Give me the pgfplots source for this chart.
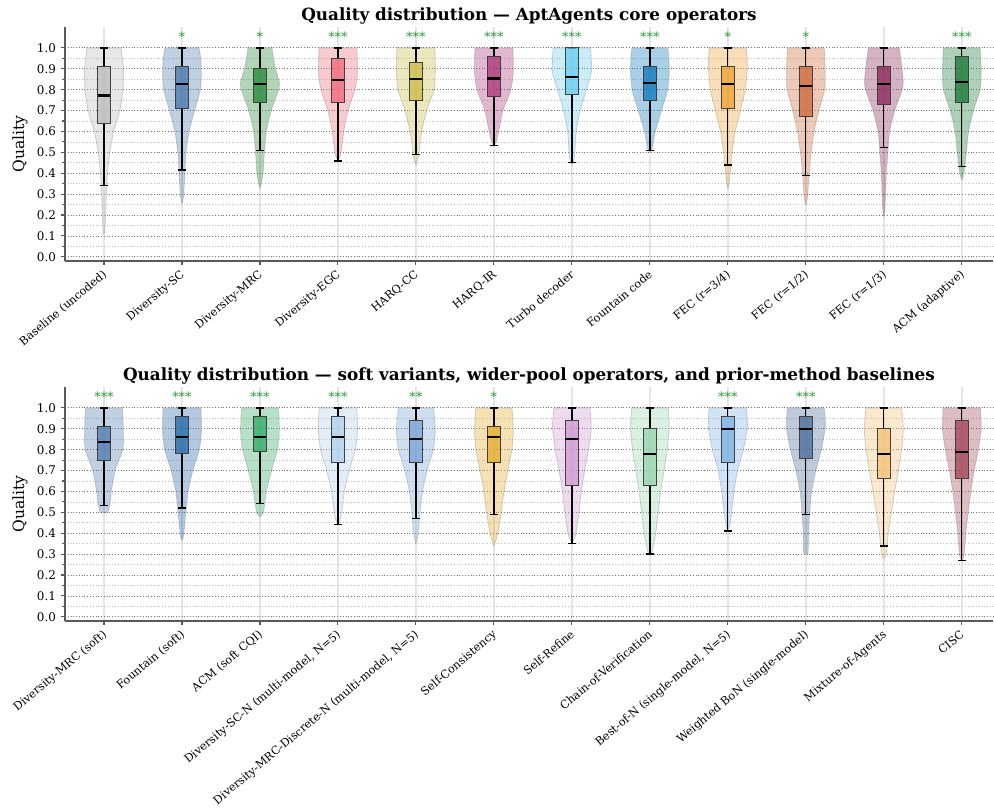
\documentclass[border=0pt]{standalone}
\usepackage{fontspec}
\setmainfont{DejaVu Serif}
\usepackage{pgfplots}
\usepackage{pgfplotstable}
\pgfplotsset{compat=1.18}
\usepgfplotslibrary{statistics,fillbetween}

% ---------- colours ----------
\definecolor{cA0}{HTML}{BBBBBB}
\definecolor{cA1}{HTML}{4477AA}
\definecolor{cA2}{HTML}{228833}
\definecolor{cA3}{HTML}{EE6677}
\definecolor{cA4}{HTML}{CCBB44}
\definecolor{cA5}{HTML}{AA3377}
\definecolor{cA6}{HTML}{66CCEE}
\definecolor{cA7}{HTML}{0977BB}
\definecolor{cA8}{HTML}{EEA030}
\definecolor{cA9}{HTML}{CC6633}
\definecolor{cA10}{HTML}{882255}
\definecolor{cA11}{HTML}{147733}
\definecolor{cB0}{HTML}{4D79B0}
\definecolor{cB1}{HTML}{2265A8}
\definecolor{cB2}{HTML}{2EAA62}
\definecolor{cB3}{HTML}{B0CFEE}
\definecolor{cB4}{HTML}{76A1D5}
\definecolor{cB5}{HTML}{E4AA2A}
\definecolor{cB6}{HTML}{CE98D0}
\definecolor{cB7}{HTML}{95D3AA}
\definecolor{cB8}{HTML}{7AB0E4}
\definecolor{cB9}{HTML}{486899}
\definecolor{cB10}{HTML}{F3BF74}
\definecolor{cB11}{HTML}{A14154}
\definecolor{sigc}{HTML}{2E9B3E}

% ---------- violin profiles: quality y, relative half-width w ----------
% core operators
\pgfplotstableread[row sep=\\]{y w\\0.108 0\\0.13 0.05\\0.2 0.08\\0.3 0.12\\0.4 0.18\\0.5 0.3\\0.6 0.5\\0.7 0.82\\0.8 0.98\\0.9 1.0\\1.0 0.88\\}\vAa
\pgfplotstableread[row sep=\\]{y w\\0.254 0\\0.28 0.06\\0.3 0.09\\0.4 0.15\\0.5 0.21\\0.6 0.37\\0.7 0.65\\0.8 0.95\\0.88 1.0\\0.95 0.97\\1.0 0.88\\}\vAb
\pgfplotstableread[row sep=\\]{y w\\0.329 0\\0.35 0.07\\0.4 0.16\\0.5 0.23\\0.6 0.33\\0.7 0.58\\0.8 0.97\\0.84 1.0\\0.9 0.8\\1.0 0.62\\}\vAc
\pgfplotstableread[row sep=\\]{y w\\0.459 0\\0.48 0.1\\0.5 0.16\\0.6 0.3\\0.7 0.52\\0.8 0.88\\0.87 1.0\\0.95 1.0\\1.0 0.98\\}\vAd
\pgfplotstableread[row sep=\\]{y w\\0.44 0\\0.46 0.08\\0.5 0.16\\0.6 0.3\\0.7 0.56\\0.8 0.93\\0.87 1.0\\0.95 1.0\\1.0 0.98\\}\vAe
\pgfplotstableread[row sep=\\]{y w\\0.53 0\\0.55 0.12\\0.6 0.25\\0.7 0.47\\0.8 0.88\\0.88 1.0\\0.95 1.0\\1.0 0.98\\}\vAf
\pgfplotstableread[row sep=\\]{y w\\0.44 0\\0.46 0.1\\0.5 0.15\\0.6 0.22\\0.7 0.43\\0.8 0.75\\0.88 1.0\\0.95 1.0\\1.0 0.97\\}\vAg
\pgfplotstableread[row sep=\\]{y w\\0.5 0\\0.52 0.12\\0.55 0.18\\0.6 0.28\\0.7 0.6\\0.8 0.92\\0.88 1.0\\0.95 0.98\\1.0 0.93\\}\vAh
\pgfplotstableread[row sep=\\]{y w\\0.329 0\\0.35 0.06\\0.4 0.12\\0.5 0.22\\0.6 0.38\\0.7 0.65\\0.8 0.9\\0.9 1.0\\1.0 0.97\\}\vAi
\pgfplotstableread[row sep=\\]{y w\\0.249 0\\0.27 0.06\\0.3 0.1\\0.4 0.17\\0.5 0.28\\0.6 0.43\\0.7 0.68\\0.8 0.97\\0.87 1.0\\0.95 0.98\\1.0 0.95\\}\vAj
\pgfplotstableread[row sep=\\]{y w\\0.193 0\\0.22 0.05\\0.3 0.09\\0.4 0.13\\0.5 0.21\\0.6 0.3\\0.7 0.56\\0.8 0.95\\0.84 1.0\\0.92 0.92\\1.0 0.8\\}\vAk
\pgfplotstableread[row sep=\\]{y w\\0.368 0\\0.39 0.08\\0.42 0.13\\0.5 0.24\\0.6 0.35\\0.7 0.6\\0.8 0.95\\0.88 1.0\\0.95 0.98\\1.0 0.95\\}\vAl
% soft variants, wider pools, prior methods
\pgfplotstableread[row sep=\\]{y w\\0.498 0\\0.5 0.2\\0.55 0.32\\0.6 0.38\\0.7 0.58\\0.8 0.97\\0.87 1.0\\0.95 0.98\\1.0 0.95\\}\vBa
\pgfplotstableread[row sep=\\]{y w\\0.363 0\\0.38 0.06\\0.4 0.1\\0.5 0.2\\0.6 0.32\\0.7 0.56\\0.8 0.9\\0.88 1.0\\0.95 1.0\\1.0 0.98\\}\vBb
\pgfplotstableread[row sep=\\]{y w\\0.478 0\\0.49 0.12\\0.5 0.18\\0.6 0.34\\0.7 0.6\\0.8 0.9\\0.88 1.0\\0.95 0.98\\1.0 0.95\\}\vBc
\pgfplotstableread[row sep=\\]{y w\\0.441 0\\0.46 0.1\\0.5 0.19\\0.6 0.33\\0.7 0.58\\0.8 0.9\\0.88 1.0\\0.95 1.0\\1.0 0.97\\}\vBd
\pgfplotstableread[row sep=\\]{y w\\0.35 0\\0.37 0.06\\0.4 0.12\\0.5 0.21\\0.6 0.34\\0.7 0.58\\0.8 0.9\\0.88 1.0\\0.95 0.97\\1.0 0.9\\}\vBe
\pgfplotstableread[row sep=\\]{y w\\0.34 0\\0.36 0.08\\0.4 0.2\\0.5 0.38\\0.6 0.52\\0.7 0.72\\0.8 0.93\\0.88 1.0\\0.95 0.98\\1.0 0.93\\}\vBf
\pgfplotstableread[row sep=\\]{y w\\0.35 0\\0.37 0.1\\0.4 0.21\\0.5 0.37\\0.6 0.49\\0.7 0.66\\0.8 0.86\\0.9 1.0\\0.95 0.98\\1.0 0.93\\}\vBg
\pgfplotstableread[row sep=\\]{y w\\0.301 0\\0.31 0.1\\0.35 0.2\\0.4 0.3\\0.5 0.43\\0.6 0.56\\0.7 0.73\\0.8 0.9\\0.9 1.0\\0.95 0.98\\1.0 0.95\\}\vBh
\pgfplotstableread[row sep=\\]{y w\\0.41 0\\0.43 0.07\\0.45 0.12\\0.5 0.19\\0.6 0.32\\0.7 0.5\\0.8 0.8\\0.9 1.0\\0.95 1.0\\1.0 0.97\\}\vBi
\pgfplotstableread[row sep=\\]{y w\\0.30 0\\0.305 0.11\\0.35 0.13\\0.4 0.14\\0.5 0.2\\0.6 0.3\\0.7 0.52\\0.8 0.8\\0.9 1.0\\0.95 1.0\\1.0 0.95\\}\vBj
\pgfplotstableread[row sep=\\]{y w\\0.279 0\\0.29 0.08\\0.3 0.12\\0.4 0.23\\0.5 0.39\\0.6 0.56\\0.7 0.75\\0.8 0.92\\0.88 1.0\\0.95 0.98\\1.0 0.92\\}\vBk
\pgfplotstableread[row sep=\\]{y w\\0.27 0\\0.28 0.07\\0.3 0.12\\0.4 0.21\\0.5 0.33\\0.6 0.47\\0.7 0.64\\0.8 0.86\\0.9 1.0\\0.95 0.99\\1.0 0.97\\}\vBl

% violin: #1 path name, #2 position, #3 colour, #4 profile table
\newcommand{\violin}[4]{%
  \addplot[draw=none, smooth, tension=0.4, name path=#1r] table[x expr={#2+0.248*\thisrow{w}}, y=y]{#4};
  \addplot[draw=none, smooth, tension=0.4, name path=#1l] table[x expr={#2-0.248*\thisrow{w}}, y=y]{#4};
  \addplot[fill=#3, fill opacity=0.35, draw=black!55, draw opacity=0.3, line width=0.6pt]
    fill between[of=#1r and #1l, reverse=true];
}
% box: #1 position, #2 colour, #3 lower whisker, #4 Q1, #5 median, #6 Q3, #7 upper whisker
\newcommand{\qbox}[7]{%
  \addplot[boxplot prepared={draw position=#1, lower whisker=#3, lower quartile=#4,
      median=#5, upper quartile=#6, upper whisker=#7},
    draw=black!75, line width=0.7pt, fill=#2, fill opacity=0.75] coordinates {};
}
\newcommand{\sig}[2]{\node[font=\fontsize{9.3}{10}\selectfont, text=sigc, anchor=base] at (axis cs:#1,1.03) {#2};}

\pgfplotsset{
  qaxis/.style={
    scale only axis, width=668.16pt, height=168.48pt,
    xmin=-0.5, xmax=11.4, ymin=-0.02, ymax=1.1,
    clip=false,
    axis x line*=bottom, axis y line*=left,
    axis line style={-, draw=black!65, line width=0.8pt},
    xtick={0,1,2,3,4,5,6,7,8,9,10,11},
    ytick={0,0.1,0.2,0.3,0.4,0.5,0.6,0.7,0.8,0.9,1.0},
    minor ytick={0.05,0.15,0.25,0.35,0.45,0.55,0.65,0.75,0.85,0.95},
    tick align=outside, major tick length=3pt, minor tick length=1.8pt,
    every tick/.style={draw=black!65, line width=0.8pt},
    yticklabel style={font=\fontsize{8.6}{10}\selectfont, /pgf/number format/.cd, fixed, fixed zerofill, precision=1, assume math mode=true},
    xticklabel style={font=\fontsize{8.1}{10}\selectfont, rotate=40, anchor=north east, inner sep=1pt, xshift=-2pt},
    xmajorgrids, ymajorgrids, yminorgrids,
    major x grid style={solid, draw=black!10, line width=1pt},
    major y grid style={dash pattern=on 0.6pt off 1.4pt, draw=black!55, line width=0.6pt},
    minor y grid style={dash pattern=on 0.6pt off 1.4pt, draw=black!25, line width=0.5pt},
    ylabel={Quality},
    ylabel style={font=\fontsize{11.2}{13}\selectfont, at={(axis description cs:-0.0485,0.5)}, anchor=center},
    every axis title shift=0pt,
    title style={font=\bfseries\fontsize{12.1}{14}\selectfont, at={(axis description cs:0.5,1)}, anchor=south, inner sep=0pt, yshift=2pt},
    boxplot/draw direction=y,
    boxplot/box extend=0.165,
    boxplot/whisker extend=0.1,
    boxplot/every median/.style={draw=black, line width=1.6pt, fill opacity=1},
    boxplot/every whisker/.style={draw=black, line width=0.9pt},
  }
}

\begin{document}
\begin{tikzpicture}
\begin{axis}[qaxis, at={(0,0)}, anchor=south west,
  title={Quality distribution — AptAgents core operators},
  xticklabels={Baseline (uncoded), Diversity-SC, Diversity-MRC, Diversity-EGC, HARQ-CC, HARQ-IR,
    Turbo decoder, Fountain code, {FEC (r=3/4)}, {FEC (r=1/2)}, {FEC (r=1/3)}, ACM (adaptive)}]
  \violin{pa0}{0}{cA0}{\vAa}
  \violin{pa1}{1}{cA1}{\vAb}
  \violin{pa2}{2}{cA2}{\vAc}
  \violin{pa3}{3}{cA3}{\vAd}
  \violin{pa4}{4}{cA4}{\vAe}
  \violin{pa5}{5}{cA5}{\vAf}
  \violin{pa6}{6}{cA6}{\vAg}
  \violin{pa7}{7}{cA7}{\vAh}
  \violin{pa8}{8}{cA8}{\vAi}
  \violin{pa9}{9}{cA9}{\vAj}
  \violin{pa10}{10}{cA10}{\vAk}
  \violin{pa11}{11}{cA11}{\vAl}
  \qbox{0}{cA0}{0.341}{0.640}{0.772}{0.911}{1.0}
  \qbox{1}{cA1}{0.416}{0.708}{0.826}{0.909}{1.0}
  \qbox{2}{cA2}{0.510}{0.740}{0.826}{0.901}{1.0}
  \qbox{3}{cA3}{0.459}{0.740}{0.848}{0.949}{1.0}
  \qbox{4}{cA4}{0.491}{0.750}{0.852}{0.930}{1.0}
  \qbox{5}{cA5}{0.533}{0.767}{0.853}{0.959}{1.0}
  \qbox{6}{cA6}{0.453}{0.778}{0.861}{1.0}{1.0}
  \qbox{7}{cA7}{0.509}{0.750}{0.831}{0.911}{1.0}
  \qbox{8}{cA8}{0.440}{0.708}{0.828}{0.909}{1.0}
  \qbox{9}{cA9}{0.391}{0.670}{0.817}{0.909}{1.0}
  \qbox{10}{cA10}{0.522}{0.727}{0.828}{0.911}{1.0}
  \qbox{11}{cA11}{0.431}{0.740}{0.837}{0.959}{1.0}
  \sig{1}{*}\sig{2}{*}\sig{3}{***}\sig{4}{***}\sig{5}{***}\sig{6}{***}
  \sig{7}{***}\sig{8}{*}\sig{9}{*}\sig{11}{***}
\end{axis}
\begin{axis}[qaxis, at={(0,-259.2pt)}, anchor=south west,
  title={Quality distribution — soft variants, wider-pool operators, and prior-method baselines},
  xticklabels={Diversity-MRC (soft), Fountain (soft), ACM (soft CQI),
    {Diversity-SC-N (multi-model, N=5)}, {Diversity-MRC-Discrete-N (multi-model, N=5)},
    Self-Consistency, Self-Refine, Chain-of-Verification, {Best-of-N (single-model, N=5)},
    Weighted BoN (single-model), Mixture-of-Agents, CISC}]
  \violin{pb0}{0}{cB0}{\vBa}
  \violin{pb1}{1}{cB1}{\vBb}
  \violin{pb2}{2}{cB2}{\vBc}
  \violin{pb3}{3}{cB3}{\vBd}
  \violin{pb4}{4}{cB4}{\vBe}
  \violin{pb5}{5}{cB5}{\vBf}
  \violin{pb6}{6}{cB6}{\vBg}
  \violin{pb7}{7}{cB7}{\vBh}
  \violin{pb8}{8}{cB8}{\vBi}
  \violin{pb9}{9}{cB9}{\vBj}
  \violin{pb10}{10}{cB10}{\vBk}
  \violin{pb11}{11}{cB11}{\vBl}
  \qbox{0}{cB0}{0.532}{0.748}{0.836}{0.912}{1.0}
  \qbox{1}{cB1}{0.521}{0.780}{0.860}{0.960}{1.0}
  \qbox{2}{cB2}{0.541}{0.790}{0.860}{0.960}{1.0}
  \qbox{3}{cB3}{0.441}{0.740}{0.860}{0.960}{1.0}
  \qbox{4}{cB4}{0.471}{0.740}{0.850}{0.940}{1.0}
  \qbox{5}{cB5}{0.490}{0.740}{0.860}{0.909}{1.0}
  \qbox{6}{cB6}{0.350}{0.631}{0.850}{0.940}{1.0}
  \qbox{7}{cB7}{0.301}{0.631}{0.780}{0.900}{1.0}
  \qbox{8}{cB8}{0.411}{0.740}{0.900}{0.960}{1.0}
  \qbox{9}{cB9}{0.490}{0.760}{0.900}{0.960}{1.0}
  \qbox{10}{cB10}{0.339}{0.661}{0.780}{0.900}{1.0}
  \qbox{11}{cB11}{0.271}{0.661}{0.790}{0.940}{1.0}
  \sig{0}{***}\sig{1}{***}\sig{2}{***}\sig{3}{***}\sig{4}{**}\sig{5}{*}
  \sig{8}{***}\sig{9}{***}
\end{axis}
\pgfresetboundingbox
\path[use as bounding box] (-46.8pt,-395.28pt) rectangle (668.88pt,187.92pt);
\end{tikzpicture}
\end{document}
